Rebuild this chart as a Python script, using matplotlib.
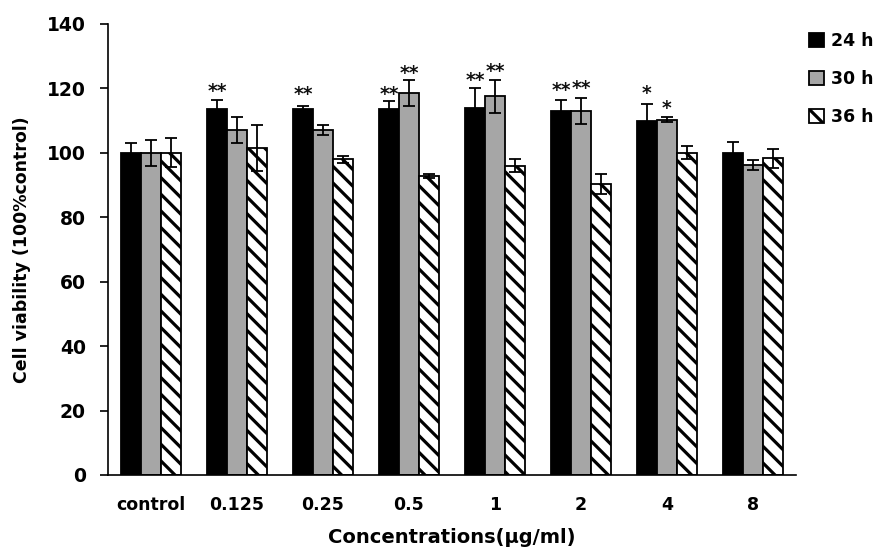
import matplotlib
matplotlib.use("Agg")
import matplotlib.pyplot as plt
import numpy as np

categories = ["control", "0.125", "0.25", "0.5", "1", "2", "4", "8"]
series = ["24 h", "30 h", "36 h"]
v24 = [100, 113.5, 113.5, 113.5, 114, 113, 110, 100]
e24 = [3, 3, 1, 2.5, 6, 3.5, 5.2, 3.5]
v30 = [100, 107, 107, 118.5, 117.5, 113, 110.3, 96.3]
e30 = [4, 4, 1.5, 4, 5, 4, 0.7, 1.5]
v36 = [100, 101.5, 98, 92.8, 96, 90.3, 100, 98.3]
e36 = [4.5, 7, 1, 0.7, 2, 3, 2, 3]
# significance labels: (category index, series index, text, y position)
stars = [(1, 0, "**", 119), (2, 0, "**", 118), (3, 0, "**", 118), (3, 1, "**", 124.5),
         (4, 0, "**", 122.5), (4, 1, "**", 125.3), (5, 0, "**", 119.5), (5, 1, "**", 120),
         (6, 0, "*", 118.3), (6, 1, "*", 113.8)]

plt.rcParams['hatch.linewidth'] = 2.3
fig = plt.figure(figsize=(8.81, 5.5), dpi=100)
ax = fig.add_axes([0.1226, 0.1364, 0.7809, 0.82])

x = np.arange(len(categories))
w = 0.233
offs = [-w, 0, w]
vals = [v24, v30, v36]
errs = [e24, e30, e36]
faces = ["black", "#a6a6a6", "white"]
hatches = [None, None, "\\\\"]
handles = []
for i in range(3):
    b = ax.bar(x + offs[i], vals[i], w, color=faces[i], edgecolor="black", linewidth=1.3,
               hatch=hatches[i], label=series[i], zorder=2)
    handles.append(b)
    ax.errorbar(x + offs[i], vals[i], yerr=errs[i], fmt="none", ecolor="black",
                elinewidth=1.3, capsize=4.3, capthick=1.3, zorder=3)

for ci, si, txt, yy in stars:
    ax.text(x[ci] + offs[si], yy, txt, ha="center", va="center", fontsize=13.5,
            fontweight="bold", color="#111111")

ax.set_xlim(-0.5, len(categories) - 0.5)
ax.set_ylim(0, 140)
ax.set_yticks(np.arange(0, 141, 20))
ax.set_xticks(x)
ax.set_xticklabels(categories)
ax.tick_params(axis="x", length=0, pad=15, labelsize=12.5)
ax.tick_params(axis="y", length=6, width=1.2, direction="out", labelsize=13.5, pad=10)
for lab in ax.get_xticklabels() + ax.get_yticklabels():
    lab.set_fontweight("bold")
ax.spines["top"].set_visible(False)
ax.spines["right"].set_visible(False)
ax.spines["left"].set_linewidth(1.2)
ax.spines["bottom"].set_linewidth(1.2)

ax.set_xlabel("Concentrations(μg/ml)", fontsize=14, fontweight="bold", labelpad=10)
ax.set_ylabel("Cell viability (100%control)", fontsize=12.5, fontweight="bold")
ax.yaxis.set_label_coords(-0.112, 0.5)

leg = fig.legend(handles=handles, labels=series, loc="upper left", bbox_to_anchor=(0.9, 0.97),
                 frameon=False, prop={"weight": "bold", "size": 12.5},
                 handlelength=0.9, handleheight=0.9, handletextpad=0.4, labelspacing=1.15)

fig.savefig("out.png", dpi=100)
